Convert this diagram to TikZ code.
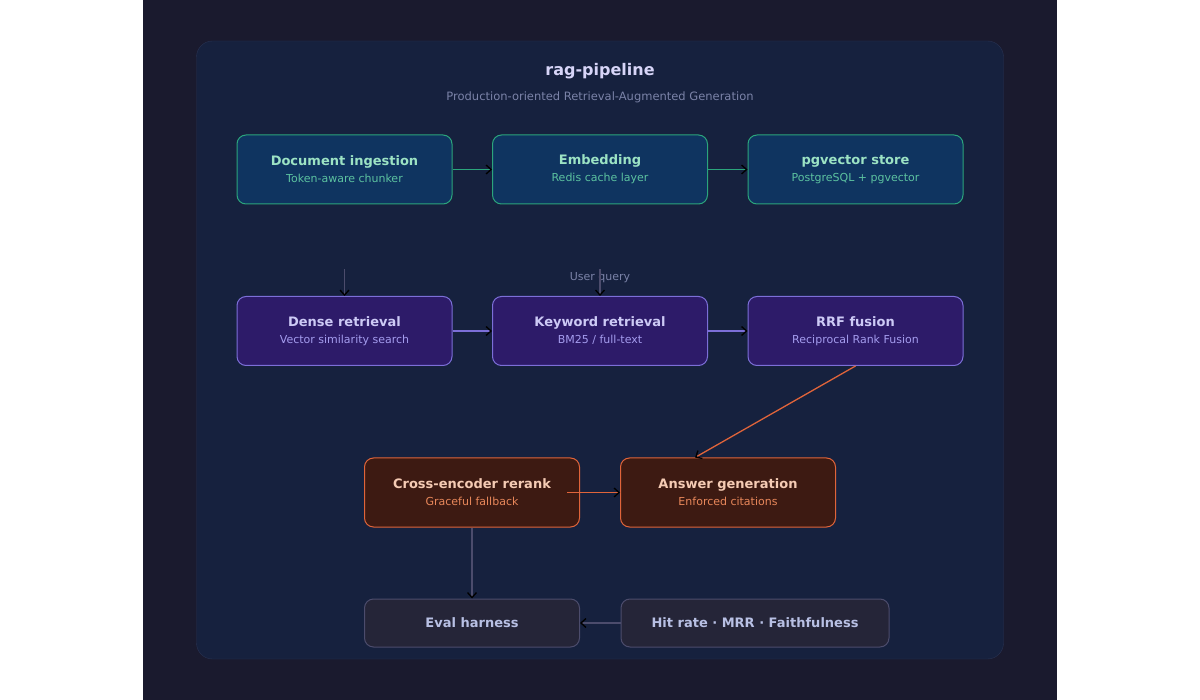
\documentclass[tikz,border=0pt]{standalone}
\usepackage{fontspec}
\setmainfont{DejaVu Sans}
\usetikzlibrary{arrows.meta}
\definecolor{bgout}{HTML}{1A1A2E}
\definecolor{panel}{HTML}{16213E}
\definecolor{panelln}{HTML}{283252}
\definecolor{grfill}{HTML}{0F3460}
\definecolor{grline}{HTML}{2BA57C}
\definecolor{grtext}{HTML}{9CE3C4}
\definecolor{grsub}{HTML}{5CC2A0}
\definecolor{pufill}{HTML}{2D1B69}
\definecolor{puline}{HTML}{7C6FD8}
\definecolor{putext}{HTML}{CDCAF6}
\definecolor{pusub}{HTML}{A49CEE}
\definecolor{orfill}{HTML}{3D1A12}
\definecolor{orline}{HTML}{E0643A}
\definecolor{ortext}{HTML}{F5CBB4}
\definecolor{orsub}{HTML}{E8875A}
\definecolor{gyfill}{HTML}{252538}
\definecolor{gyline}{HTML}{4C4C6C}
\definecolor{gytext}{HTML}{B8C0E4}
\definecolor{muted}{HTML}{7B83A8}
\tikzset{
  box/.style={draw,rounded corners=9pt,line width=1pt,minimum height=69pt,
    minimum width=215pt,inner sep=0pt,align=center},
  green/.style={box,fill=grfill,draw=grline},
  purple/.style={box,fill=pufill,draw=puline},
  orange/.style={box,fill=orfill,draw=orline},
  grey/.style={box,fill=gyfill,draw=gyline,minimum height=48pt},
  link/.style={line width=1.3pt,-{Straight Barb[color=black,length=5pt,width=9pt]}}
}
\newcommand{\btitle}[2]{{\fontsize{13}{15}\selectfont\bfseries\color{#1}#2}}
\newcommand{\bsub}[2]{{\fontsize{11}{13}\selectfont\color{#1}#2}}
\begin{document}
\begin{tikzpicture}[x=1pt,y=-1pt]
  \useasboundingbox (0,0) rectangle (1200,700);
  \fill[white] (0,0) rectangle (1200,700);
  \fill[bgout] (143,0) rectangle (1057,700);
  \filldraw[fill=panel,draw=panelln,rounded corners=16pt] (196.5,41) rectangle (1003.5,659);
  \node[font=\fontsize{16}{18}\selectfont\bfseries,text=putext!80!white](title)at(600,71){rag-pipeline};
  \node[font=\fontsize{11.5}{13}\selectfont,text=muted](subtitle)at(600,97){Production-oriented Retrieval-Augmented Generation};
  % ingestion row
  \node[green](doc)at(344.5,169.5){\btitle{grtext}{Document ingestion}\\[5pt]\bsub{grsub}{Token-aware chunker}};
  \node[green](emb)at(600,169.5){\btitle{grtext}{Embedding}\\[5pt]\bsub{grsub}{Redis cache layer}};
  \node[green](pg)at(855.5,169.5){\btitle{grtext}{pgvector store}\\[5pt]\bsub{grsub}{PostgreSQL + pgvector}};
  % retrieval row
  \node[purple](dense)at(344.5,331){\btitle{putext}{Dense retrieval}\\[5pt]\bsub{pusub}{Vector similarity search}};
  \node[purple](kw)at(600,331){\btitle{putext}{Keyword retrieval}\\[5pt]\bsub{pusub}{BM25 / full-text}};
  \node[purple](rrf)at(855.5,331){\btitle{putext}{RRF fusion}\\[5pt]\bsub{pusub}{Reciprocal Rank Fusion}};
  % generation row
  \node[orange](rerank)at(472,492.5){\btitle{ortext}{Cross-encoder rerank}\\[5pt]\bsub{orsub}{Graceful fallback}};
  \node[orange](answer)at(728,492.5){\btitle{ortext}{Answer generation}\\[5pt]\bsub{orsub}{Enforced citations}};
  % eval row
  \node[grey](eval)at(472,623){\btitle{gytext}{Eval harness}};
  \node[grey,minimum width=268pt](hit)at(755,623){\btitle{gytext}{Hit rate · MRR · Faithfulness}};
  \node[font=\fontsize{11}{13}\selectfont,text=muted](uq)at(600,278){User query};
  \coordinate(denseIn)at(344.5,269);
  \coordinate(kwIn)at(600,269);
  \coordinate(rerankOut)at(567,492.5);
  \draw[link,grline](doc)--(emb);
  \draw[link,grline](emb)--(pg);
  \draw[link,gyline](denseIn)--(dense.north);
  \draw[link,gyline](kwIn)--(kw.north);
  \draw[link,puline](dense)--(kw);
  \draw[link,puline](kw)--(rrf);
  \draw[link,orline](rrf.south)--(answer.north west-|695,0);
  \draw[link,orline](rerankOut)--(answer.west);
  \draw[link,gyline](rerank.south)--(eval.north);
  \draw[link,gyline](hit)--(eval);
\end{tikzpicture}
\end{document}
